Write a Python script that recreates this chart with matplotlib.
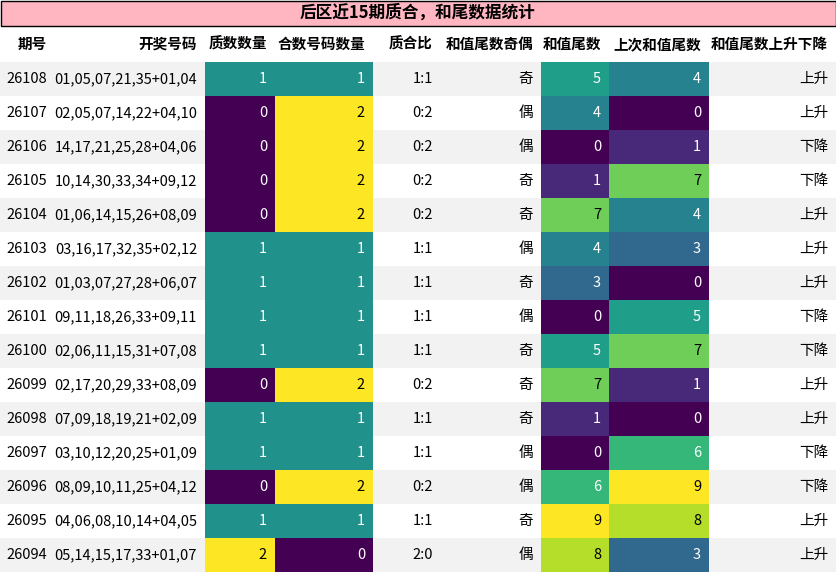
import matplotlib
matplotlib.use("Agg")
import matplotlib.pyplot as plt
from matplotlib.patches import Rectangle
from matplotlib import cm, colors

plt.rcParams['font.family'] = ['Noto Sans CJK SC', 'DejaVu Sans']

title = "后区近15期质合，和尾数据统计"
headers = ["期号", "开奖号码", "质数数量", "合数号码数量", "质合比", "和值尾数奇偶", "和值尾数", "上次和值尾数", "和值尾数上升下降"]
periods = ["26108", "26107", "26106", "26105", "26104", "26103", "26102", "26101", "26100",
           "26099", "26098", "26097", "26096", "26095", "26094"]
draws = ["01,05,07,21,35+01,04", "02,05,07,14,22+04,10", "14,17,21,25,28+04,06", "10,14,30,33,34+09,12",
         "01,06,14,15,26+08,09", "03,16,17,32,35+02,12", "01,03,07,27,28+06,07", "09,11,18,26,33+09,11",
         "02,06,11,15,31+07,08", "02,17,20,29,33+08,09", "07,09,18,19,21+02,09", "03,10,12,20,25+01,09",
         "08,09,10,11,25+04,12", "04,06,08,10,14+04,05", "05,14,15,17,33+01,07"]
primes = [1, 0, 0, 0, 0, 1, 1, 1, 1, 0, 1, 1, 0, 1, 2]
composites = [1, 2, 2, 2, 2, 1, 1, 1, 1, 2, 1, 1, 2, 1, 0]
ratio = ["1:1", "0:2", "0:2", "0:2", "0:2", "1:1", "1:1", "1:1", "1:1", "0:2", "1:1", "1:1", "0:2", "1:1", "2:0"]
parity = ["奇", "偶", "偶", "奇", "奇", "偶", "奇", "偶", "奇", "奇", "奇", "偶", "偶", "奇", "偶"]
tails = [5, 4, 0, 1, 7, 4, 3, 0, 5, 7, 1, 0, 6, 9, 8]
prev_tails = [4, 0, 1, 7, 4, 3, 0, 5, 7, 1, 0, 6, 9, 8, 3]
trend = ["上升", "上升", "下降", "下降", "上升", "上升", "上升", "下降", "下降", "上升", "上升", "下降", "下降", "上升", "上升"]

col_edges = [0, 55, 205, 275, 373, 441, 541, 609, 709, 836]
title_h, head_h, row_h = 26, 36, 34

fig = plt.figure(figsize=(8.36, 5.73), dpi=100)
ax = fig.add_axes([0, 0, 1, 1])
ax.set_xlim(0, 836)
ax.set_ylim(573, 0)
ax.axis('off')

ax.add_patch(Rectangle((0.5, 0.5), 835, title_h - 1, facecolor='#ffb6c1', edgecolor='black', lw=1))
ax.text(418, title_h / 2, title, ha='center', va='center', fontsize=12, fontweight='bold')

for j, h in enumerate(headers):
    ax.text(col_edges[j + 1] - 8, title_h + head_h / 2, h, ha='right', va='center',
            fontsize=10.5, fontweight='bold')

cmap = cm.get_cmap('viridis')
norm_pc = colors.Normalize(0, 2)
norm_t = colors.Normalize(0, 9)


def text_color(rgba):
    r, g, b = [c ** 2.2 for c in rgba[:3]]
    lum = 0.2126 * r + 0.7152 * g + 0.0722 * b
    return 'white' if lum < 0.408 else 'black'


for i in range(len(periods)):
    y0 = title_h + head_h + i * row_h
    if i % 2 == 0:
        ax.add_patch(Rectangle((0, y0), 836, row_h, facecolor='#f2f2f2', edgecolor='none'))
    cells = [periods[i], draws[i], primes[i], composites[i], ratio[i], parity[i],
             tails[i], prev_tails[i], trend[i]]
    fills = {2: norm_pc(primes[i]), 3: norm_pc(composites[i]),
             6: norm_t(tails[i]), 7: norm_t(prev_tails[i])}
    for j, v in enumerate(cells):
        tc = 'black'
        if j in fills:
            fc = cmap(fills[j])
            ax.add_patch(Rectangle((col_edges[j], y0), col_edges[j + 1] - col_edges[j], row_h,
                                   facecolor=fc, edgecolor='none'))
            tc = text_color(fc)
        ax.text(col_edges[j + 1] - 8, y0 + row_h / 2, str(v), ha='right', va='center',
                fontsize=10.5, color=tc)

fig.savefig("out.png", dpi=100)
